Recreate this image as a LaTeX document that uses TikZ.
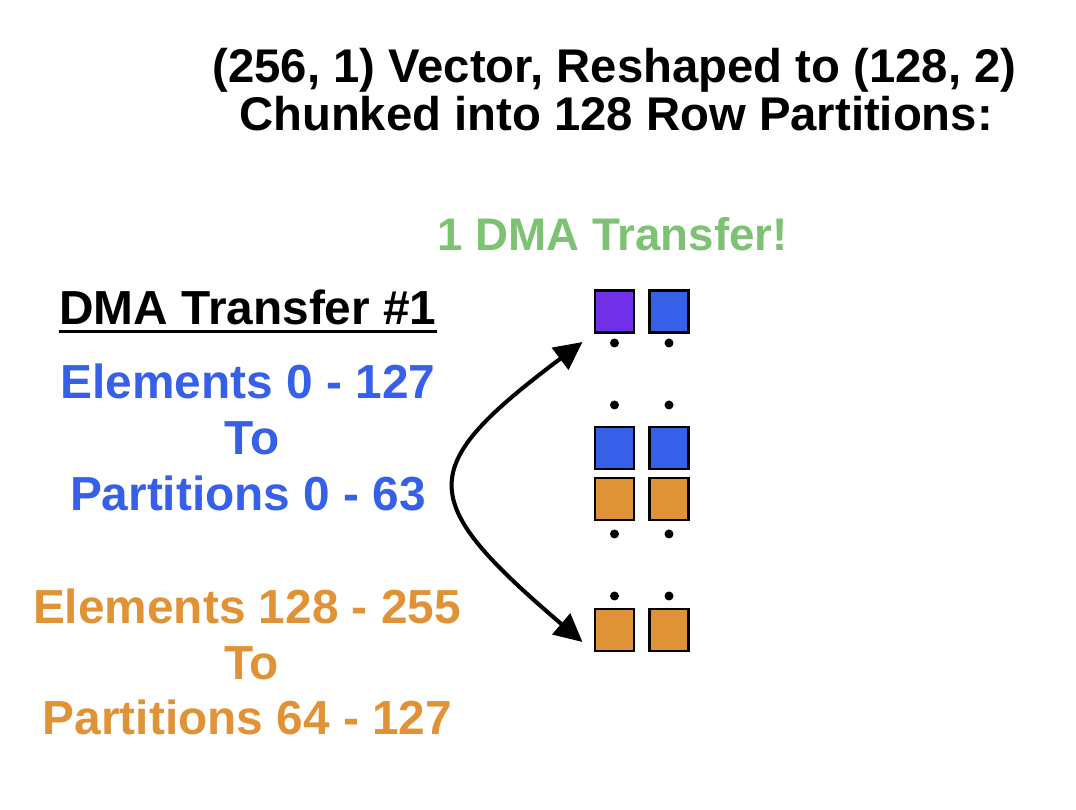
\documentclass[tikz,border=0pt]{standalone}
\usepackage{fontspec}
\setmainfont{Liberation Sans}
\usetikzlibrary{arrows.meta}
\definecolor{dmablue}{HTML}{3660E8}
\definecolor{dmaorange}{HTML}{E09236}
\definecolor{dmapurple}{HTML}{7030EA}
\definecolor{dmagreen}{HTML}{7DC172}
\begin{document}
\begin{tikzpicture}[line width=0.6pt,
    cell/.style={draw=black, line width=1.2pt, minimum width=0.78cm, minimum height=0.84cm, inner sep=0pt},
    txt/.style={font=\fontsize{27.2}{31}\selectfont\bfseries, anchor=base, inner sep=0pt},
    dot/.style={fill=black, draw=none, circle, minimum size=0.18cm, inner sep=0pt}]
  \useasboundingbox (0,0) rectangle (21.52,16.2);
  % heading
  \node[txt, font=\fontsize{26.9}{30}\selectfont\bfseries] (ttlA) at (12.29,14.54) {(256, 1) Vector, Reshaped to (128, 2)};
  \node[txt, font=\fontsize{26.9}{30}\selectfont\bfseries] (ttlB) at (12.32,13.58) {Chunked into 128 Row Partitions:};
  \node[txt, font=\fontsize{26}{30}\selectfont\bfseries, text=dmagreen] (one) at (12.25,11.18) {1 DMA Transfer!};
  % left labels
  \node[txt] (hdr) at (4.96,9.70) {DMA Transfer \#1};
  \draw[line width=1.7pt] ([yshift=-0.134cm]hdr.base west) -- ([yshift=-0.134cm]hdr.base east);
  \node[txt, text=dmablue] (blA) at (4.96,8.234) {Elements 0 - 127};
  \node[txt, text=dmablue] (blB) at (5.04,7.10) {To};
  \node[txt, text=dmablue] (blC) at (4.96,5.986) {Partitions 0 - 63};
  \node[txt, text=dmaorange] (orA) at (4.94,3.734) {Elements 128 - 255};
  \node[txt, text=dmaorange] (orB) at (5.03,2.60) {To};
  \node[txt, text=dmaorange] (orC) at (4.95,1.50) {Partitions 64 - 127};
  % partitions
  \node[cell, fill=dmapurple] (pA) at (12.29,9.97) {};
  \node[cell, fill=dmablue] (pB) at (13.38,9.97) {};
  \node[cell, fill=dmablue] (pC) at (12.29,7.234) {};
  \node[cell, fill=dmablue] (pD) at (13.38,7.234) {};
  \node[cell, fill=dmaorange] (pE) at (12.29,6.216) {};
  \node[cell, fill=dmaorange] (pF) at (13.38,6.216) {};
  \node[cell, fill=dmaorange] (pG) at (12.29,3.60) {};
  \node[cell, fill=dmaorange] (pH) at (13.38,3.60) {};
  \foreach \y [count=\i] in {9.34,8.10,5.52,4.28} {
    \node[dot] (dl\i) at (12.29,\y) {};
    \node[dot] (dr\i) at (13.38,\y) {};
  }
  % transfer arrow
  \draw[line width=2.3pt, {Triangle[length=0.56cm,width=0.54cm]}-{Triangle[length=0.56cm,width=0.54cm]}]
    ([shift={(-0.23,-0.24)}]pG.west) .. controls (8.3,6.22) and (8.3,6.84) .. ([shift={(-0.23,-0.17)}]pA.south west);
\end{tikzpicture}
\end{document}
